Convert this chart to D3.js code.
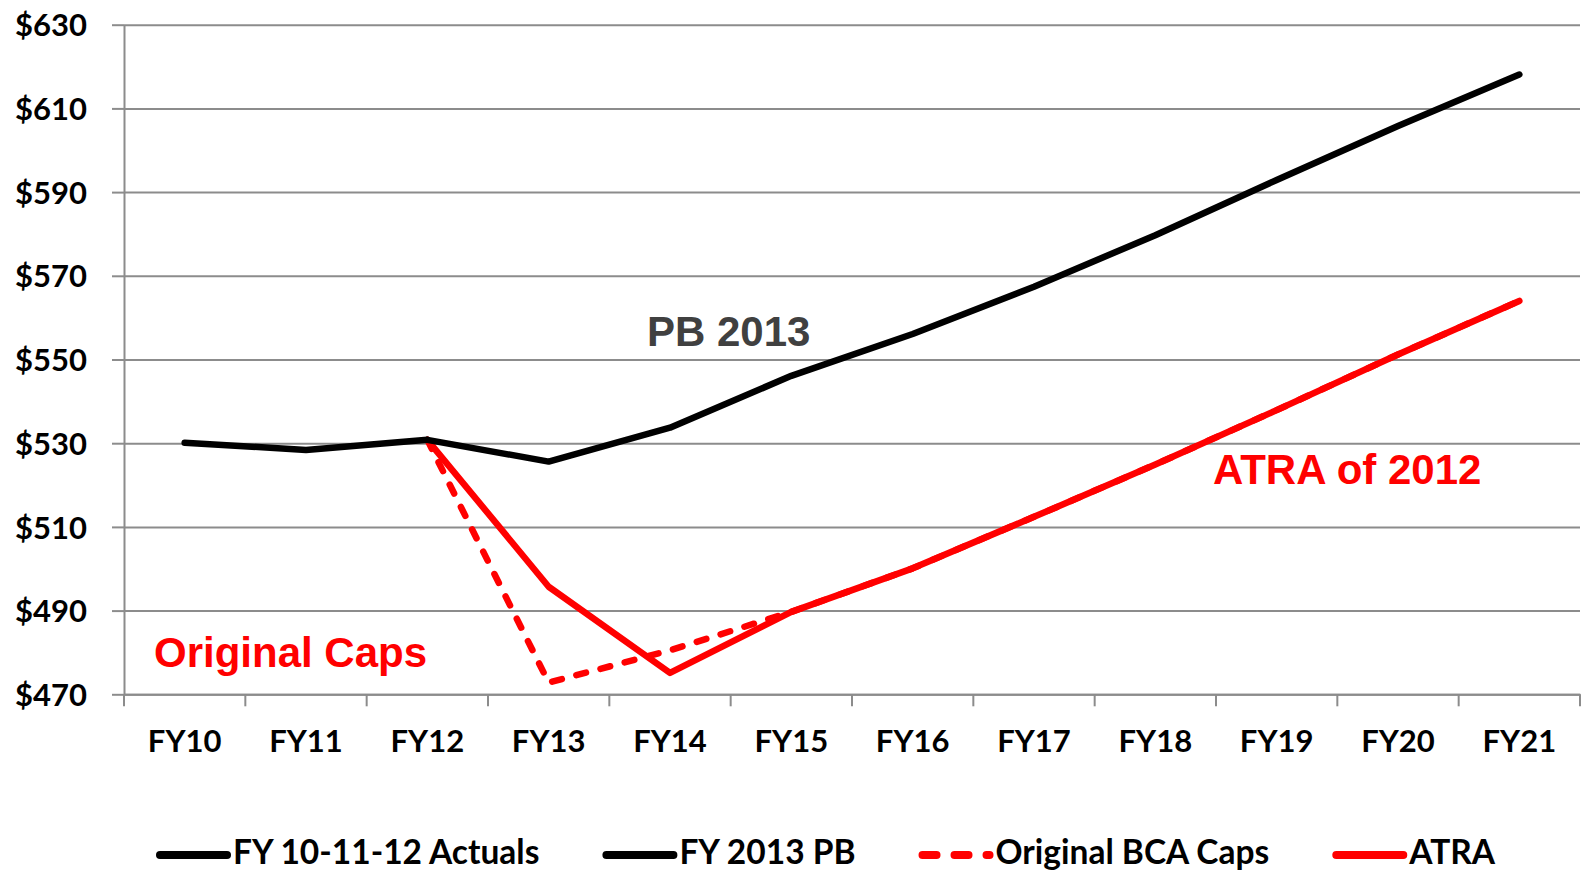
<!DOCTYPE html>
<html>
<head>
<meta charset="utf-8">
<script src="https://cdn.jsdelivr.net/npm/d3@7"></script>
<style>
  body { margin: 0; background: #fff; }
  svg { display: block; }
  .axis text { font-family: Lato, "Open Sans", sans-serif; font-weight: 700; fill: #000; }
  .legend text { font-family: Lato, "Open Sans", sans-serif; font-weight: 700; fill: #000; }
  .note { font-family: "Liberation Sans", Arial, sans-serif; font-weight: 700; }
</style>
</head>
<body>
<div id="chart"></div>
<script>
// fiscal years on the x axis
const years = ['FY10', 'FY11', 'FY12', 'FY13', 'FY14', 'FY15', 'FY16', 'FY17', 'FY18', 'FY19', 'FY20', 'FY21']

// y ticks ($ billions)
const yTicks = [470, 490, 510, 530, 550, 570, 590, 610, 630]

// series values, null where the series has no point
const actuals = [530.1, 528.4, 530.8, null, null, null, null, null, null, null, null, null]
const pb2013 = [null, null, 530.8, 525.6, 533.7, 546.1, 556.1, 567.4, 579.7, 592.9, 605.8, 618.1]
const bcaCaps = [null, null, 530.8, 472.8, 480.5, 489.7, 500.1, 512.4, 524.9, 537.9, 551.2, 564.0]
const atra = [null, null, 530.8, 495.7, 475.1, 489.7, 500.1, 512.4, 524.9, 537.9, 551.2, 564.0]

const width = 1585
const height = 872
const margin = { top: 24.7, right: 5, bottom: 177.7, left: 124 }
const innerW = width - margin.left - margin.right
const innerH = height - margin.top - margin.bottom

const svg = d3.select('#chart')
  .append('svg')
  .attr('width', width)
  .attr('height', height)

const g = svg.append('g')
  .attr('transform', `translate(${margin.left}, ${margin.top})`)

const x = d3.scaleBand().domain(years).range([0, innerW])
const y = d3.scaleLinear().domain([470, 630]).range([innerH, 0])

// horizontal gridlines, with the little outer tick on the left
g.append('g')
  .attr('class', 'grid')
  .call(d3.axisLeft(y).tickValues(yTicks).tickSize(-innerW).tickFormat(''))
  .call(s => s.select('.domain').remove())
  .call(s => s.selectAll('line').attr('stroke', '#8c8c8c').attr('stroke-width', 2))
  .call(s => s.selectAll('.tick').append('line')
    .attr('x1', -12).attr('x2', 0)
    .attr('stroke', '#8c8c8c').attr('stroke-width', 2))

// y axis labels
g.append('g')
  .attr('class', 'y axis')
  .call(d3.axisLeft(y).tickValues(yTicks).tickSize(0).tickPadding(37).tickFormat(d => '$' + d))
  .call(s => s.select('.domain').attr('stroke', '#8c8c8c').attr('stroke-width', 2))
  .call(s => s.selectAll('text').attr('font-size', 31).attr('dy', '0.36em'))

// x axis, ticks sit on the band edges
const xAxis = g.append('g')
  .attr('class', 'x axis')
  .attr('transform', `translate(0, ${innerH})`)
  .call(d3.axisBottom(x).tickSize(0).tickPadding(36))
  .call(s => s.select('.domain').attr('stroke', '#8c8c8c').attr('stroke-width', 2))
  .call(s => s.selectAll('text').attr('font-size', 31))

xAxis.selectAll('.edge')
  .data(d3.range(years.length + 1))
  .join('line')
  .attr('class', 'edge')
  .attr('x1', i => i * x.bandwidth())
  .attr('x2', i => i * x.bandwidth())
  .attr('y1', 0)
  .attr('y2', 12)
  .attr('stroke', '#8c8c8c')
  .attr('stroke-width', 2)

const line = d3.line()
  .defined(d => d.v !== null)
  .x(d => x(d.year) + x.bandwidth() / 2)
  .y(d => y(d.v))

const series = [
  { name: 'Original BCA Caps', values: bcaCaps, color: '#ff0000', dash: '10,15' },
  { name: 'ATRA', values: atra, color: '#ff0000', dash: null },
  { name: 'FY 10-11-12 Actuals', values: actuals, color: '#000000', dash: null },
  { name: 'FY 2013 PB', values: pb2013, color: '#000000', dash: null }
]

series.forEach(s => {
  g.append('path')
    .datum(years.map((year, i) => ({ year, v: s.values[i] })))
    .attr('fill', 'none')
    .attr('stroke', s.color)
    .attr('stroke-width', 6.5)
    .attr('stroke-linejoin', 'round')
    .attr('stroke-linecap', 'round')
    .attr('stroke-dasharray', s.dash)
    .attr('d', line)
})

// annotations
svg.append('text').attr('class', 'note')
  .attr('x', 647).attr('y', 346)
  .attr('font-size', 42).attr('fill', '#404040')
  .text('PB 2013')

svg.append('text').attr('class', 'note')
  .attr('x', 1213).attr('y', 484)
  .attr('font-size', 42).attr('fill', '#ff0000')
  .text('ATRA of 2012')

svg.append('text').attr('class', 'note')
  .attr('x', 154).attr('y', 667)
  .attr('font-size', 42).attr('fill', '#ff0000')
  .text('Original Caps')

// legend along the bottom
const legendItems = [
  { name: 'FY 10-11-12 Actuals', color: '#000000', dash: null },
  { name: 'FY 2013 PB', color: '#000000', dash: null },
  { name: 'Original BCA Caps', color: '#ff0000', dash: '14,18' },
  { name: 'ATRA', color: '#ff0000', dash: null }
]

const legend = svg.append('g').attr('class', 'legend')
let lx = 157
legendItems.forEach(item => {
  const it = legend.append('g').attr('transform', `translate(${lx}, 855)`)
  it.append('line')
    .attr('x1', 3).attr('x2', 70)
    .attr('stroke', item.color)
    .attr('stroke-width', 8)
    .attr('stroke-linecap', 'round')
    .attr('stroke-dasharray', item.dash)
  const t = it.append('text')
    .attr('x', 76).attr('y', 9)
    .attr('font-size', 33.5)
    .text(item.name)
  lx += 76 + t.node().getComputedTextLength() + 64
})
</script>
</body>
</html>
